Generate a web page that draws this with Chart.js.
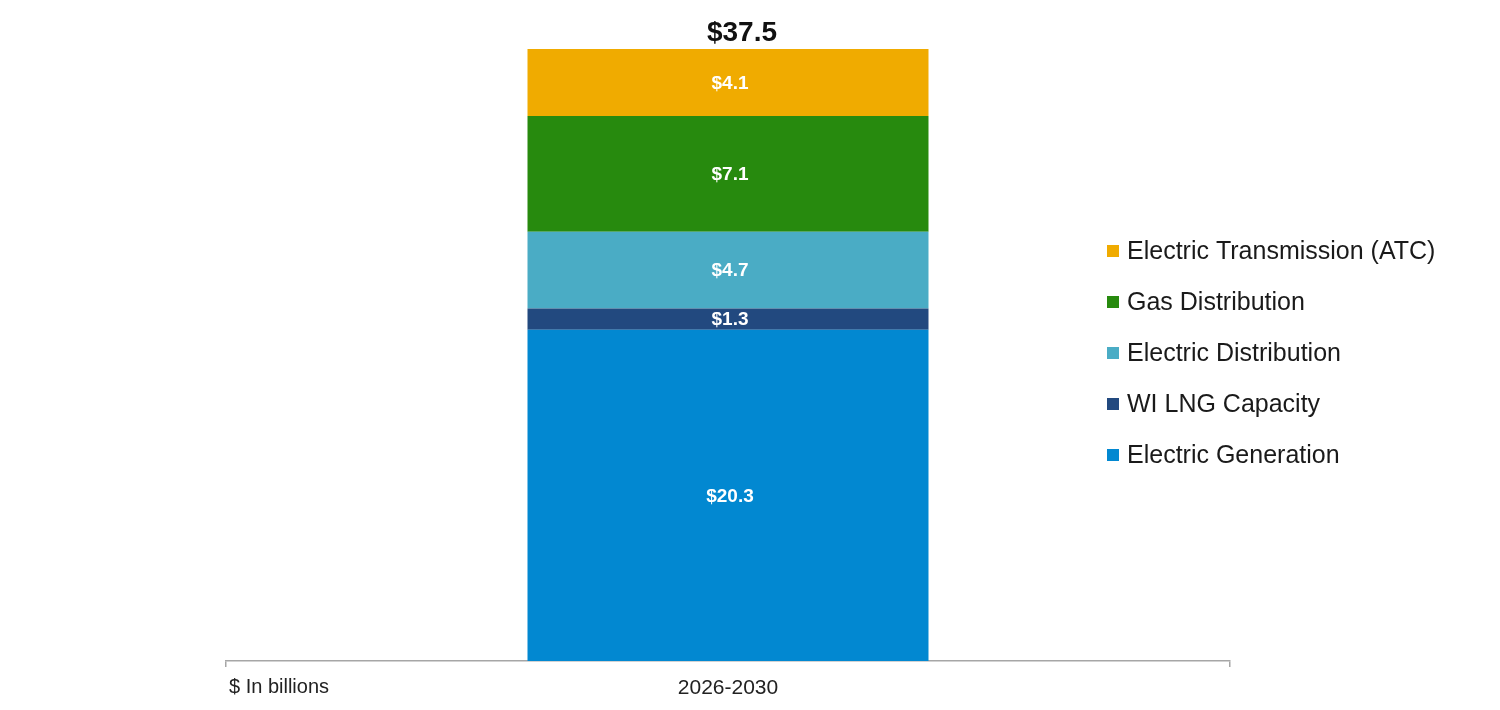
<!DOCTYPE html>
<html>
<head>
<meta charset="utf-8">
<script src="https://cdn.jsdelivr.net/npm/chart.js@4.4.1/dist/chart.umd.min.js"></script>
<style>
html,body{margin:0;padding:0;background:#fff;}
#wrap{width:1500px;height:710px;position:relative;}
</style>
</head>
<body>
<div id="wrap"><canvas id="c" width="1500" height="710"></canvas></div>
<script>
const categories = ['2026-2030'];
const seriesNames = ['Electric Generation', 'WI LNG Capacity', 'Electric Distribution', 'Gas Distribution', 'Electric Transmission (ATC)'];
const electricGeneration = [20.3];
const wiLngCapacity = [1.3];
const electricDistribution = [4.7];
const gasDistribution = [7.1];
const electricTransmission = [4.1];
const totals = [37.5];
const unitNote = '$ In billions';
const seriesColors = ['#0288D1', '#22497F', '#4AACC5', '#278A0E', '#F0AB00'];

const seriesValues = [electricGeneration, wiLngCapacity, electricDistribution, gasDistribution, electricTransmission];
const FONT = "'Liberation Sans', Arial, sans-serif";

const labelPlugin = {
  id: 'labels',
  afterDatasetsDraw(chart) {
    const ctx = chart.ctx;
    ctx.save();
    chart.data.datasets.forEach((ds, di) => {
      const meta = chart.getDatasetMeta(di);
      meta.data.forEach((bar, i) => {
        const v = ds.data[i];
        const cy = (bar.y + bar.base) / 2;
        ctx.font = 'bold 19px ' + FONT;
        ctx.fillStyle = '#ffffff';
        ctx.textAlign = 'center';
        ctx.textBaseline = 'middle';
        ctx.fillText('$' + v.toFixed(1), bar.x + 2, cy + 1);
      });
    });
    const topMeta = chart.getDatasetMeta(chart.data.datasets.length - 1);
    topMeta.data.forEach((bar, i) => {
      ctx.font = 'bold 28px ' + FONT;
      ctx.fillStyle = '#111111';
      ctx.textAlign = 'center';
      ctx.textBaseline = 'alphabetic';
      ctx.fillText('$' + totals[i].toFixed(1), bar.x + 14, bar.y - 8);
    });
    ctx.font = '20px ' + FONT;
    ctx.fillStyle = '#222222';
    ctx.textAlign = 'left';
    ctx.textBaseline = 'middle';
    ctx.fillText(unitNote, 229, 687);
    const n = chart.data.datasets.length;
    for (let k = 0; k < n; k++) {
      const ds = chart.data.datasets[n - 1 - k];
      const cy = 251 + k * 51;
      ctx.fillStyle = ds.backgroundColor;
      ctx.fillRect(1107, cy - 6, 12, 12);
      ctx.font = '25px ' + FONT;
      ctx.fillStyle = '#1a1a1a';
      ctx.textAlign = 'left';
      ctx.textBaseline = 'middle';
      ctx.fillText(ds.label, 1127, cy + 1);
    }
    ctx.restore();
  }
};

new Chart(document.getElementById('c'), {
  type: 'bar',
  data: {
    labels: categories,
    datasets: seriesNames.map((name, i) => ({
      label: name,
      data: seriesValues[i],
      backgroundColor: seriesColors[i],
      borderWidth: 0,
      categoryPercentage: 1.0,
      barPercentage: 0.3994
    }))
  },
  options: {
    responsive: false,
    animation: false,
    devicePixelRatio: 1,
    layout: { padding: { left: 226, right: 270, top: 49, bottom: 1 } },
    plugins: { legend: { display: false }, tooltip: { enabled: false } },
    scales: {
      x: {
        stacked: true,
        offset: true,
        grid: { display: true, drawOnChartArea: false, drawTicks: true, tickLength: 6, color: '#A6A6A6', lineWidth: 1.5, offset: true },
        border: { display: true, color: '#A6A6A6', width: 1.5 },
        ticks: { font: { family: FONT, size: 21, lineHeight: 2.0 }, color: '#222222', padding: 0 }
      },
      y: {
        stacked: true,
        display: false,
        min: 0,
        max: 37.5
      }
    }
  },
  plugins: [labelPlugin]
});
</script>
</body>
</html>
